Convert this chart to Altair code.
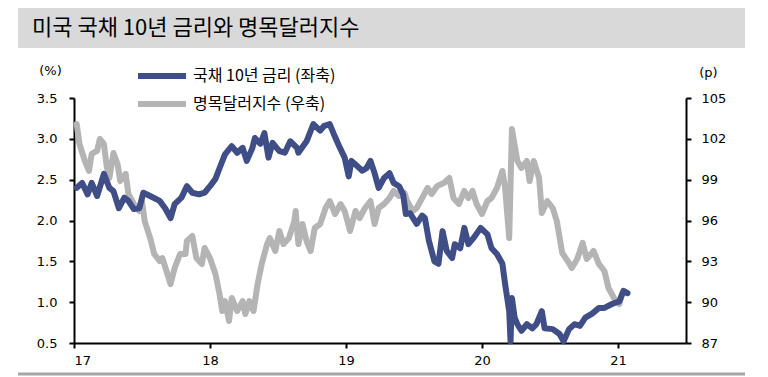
import altair as alt
import pandas as pd

title_text = ["미국 국채 10년 금리와 명목달러지수"]
series_names = ["국채 10년 금리 (좌축)", "명목달러지수 (우축)"]
series_colors = ["#3F4E86", "#B4B4B4"]

left_ticks = [0.5, 1.0, 1.5, 2.0, 2.5, 3.0, 3.5]
right_ticks = [87, 90, 93, 96, 99, 102, 105]
x_ticks = [17, 18, 19, 20, 21]

# US 10Y Treasury yield (%), time in fractional years (17 = 2017)
t_rate = [17.02, 17.06, 17.10, 17.13, 17.17, 17.22, 17.26, 17.29, 17.33, 17.37,
          17.40, 17.44, 17.48, 17.51, 17.56, 17.63, 17.67, 17.71, 17.74, 17.79,
          17.83, 17.87, 17.92, 17.96, 18.00, 18.04, 18.07, 18.11, 18.16, 18.20,
          18.24, 18.27, 18.31, 18.33, 18.37, 18.40, 18.43, 18.46, 18.51, 18.55,
          18.59, 18.64, 18.65, 18.71, 18.76, 18.81, 18.84, 18.88, 18.91, 18.95,
          18.99, 19.02, 19.04, 19.08, 19.12, 19.15, 19.18, 19.21, 19.24, 19.28,
          19.32, 19.35, 19.39, 19.42, 19.44, 19.47, 19.52, 19.56, 19.58, 19.61,
          19.65, 19.68, 19.71, 19.74, 19.78, 19.80, 19.84, 19.87, 19.90, 19.94,
          19.99, 20.04, 20.07, 20.11, 20.15, 20.17, 20.20, 20.21, 20.22, 20.24,
          20.26, 20.29, 20.33, 20.37, 20.40, 20.44, 20.46, 20.52, 20.57, 20.60,
          20.64, 20.68, 20.72, 20.76, 20.81, 20.86, 20.90, 20.96, 21.01, 21.04,
          21.07]
v_rate = [2.40, 2.46, 2.32, 2.46, 2.30, 2.57, 2.40, 2.36, 2.15, 2.28,
          2.24, 2.14, 2.15, 2.34, 2.30, 2.24, 2.15, 2.03, 2.20, 2.28,
          2.42, 2.34, 2.32, 2.34, 2.42, 2.51, 2.64, 2.81, 2.91, 2.83,
          2.89, 2.73, 2.88, 3.01, 2.94, 3.07, 2.77, 2.95, 2.85, 2.83,
          2.97, 2.89, 2.83, 2.97, 3.18, 3.10, 3.16, 3.18, 3.06, 2.91,
          2.77, 2.54, 2.73, 2.67, 2.61, 2.64, 2.73, 2.58, 2.40, 2.52,
          2.58, 2.46, 2.42, 2.32, 2.08, 2.09, 1.96, 2.06, 2.03, 1.75,
          1.50, 1.47, 1.87, 1.63, 1.54, 1.71, 1.66, 1.91, 1.71, 1.79,
          1.91, 1.83, 1.66, 1.59, 1.47, 1.22, 0.89, 0.52, 1.05, 0.81,
          0.73, 0.65, 0.73, 0.68, 0.73, 0.89, 0.68, 0.67, 0.61, 0.52,
          0.67, 0.73, 0.71, 0.81, 0.86, 0.93, 0.93, 0.98, 1.01, 1.14,
          1.11]

# Nominal dollar index (p)
t_dollar = [17.02, 17.04, 17.08, 17.11, 17.13, 17.17, 17.19, 17.22, 17.24, 17.26,
            17.29, 17.32, 17.34, 17.38, 17.40, 17.44, 17.48, 17.50, 17.52, 17.56,
            17.59, 17.63, 17.65, 17.68, 17.71, 17.74, 17.78, 17.82, 17.83, 17.87,
            17.90, 17.94, 17.96, 18.00, 18.04, 18.07, 18.09, 18.11, 18.14, 18.16,
            18.20, 18.24, 18.26, 18.29, 18.32, 18.35, 18.38, 18.42, 18.44, 18.48,
            18.51, 18.54, 18.58, 18.62, 18.63, 18.65, 18.68, 18.71, 18.74, 18.77,
            18.81, 18.85, 18.88, 18.92, 18.96, 18.99, 19.03, 19.07, 19.10, 19.14,
            19.18, 19.21, 19.24, 19.28, 19.32, 19.35, 19.39, 19.43, 19.45, 19.49,
            19.52, 19.56, 19.60, 19.63, 19.67, 19.72, 19.76, 19.79, 19.83, 19.87,
            19.90, 19.93, 19.96, 20.00, 20.04, 20.07, 20.11, 20.15, 20.17, 20.20,
            20.22, 20.26, 20.29, 20.33, 20.35, 20.38, 20.42, 20.44, 20.48, 20.52,
            20.55, 20.59, 20.63, 20.66, 20.70, 20.74, 20.77, 20.82, 20.86, 20.90,
            20.93, 20.97, 21.01, 21.03, 21.05]
v_dollar = [103.09, 101.62, 100.37, 99.64, 100.89, 101.11, 101.99, 101.62, 100.00, 99.12,
            100.96, 100.15, 98.90, 99.42, 97.95, 97.21, 96.70, 97.43, 95.96, 94.71,
            93.54, 93.02, 93.24, 92.29, 91.33, 92.51, 93.54, 93.54, 94.49, 94.86,
            93.24, 92.80, 93.98, 93.24, 92.07, 90.60, 89.35, 90.08, 88.62, 90.31,
            89.35, 90.08, 89.13, 90.08, 89.35, 91.33, 92.80, 94.27, 94.71, 93.76,
            95.23, 94.27, 94.71, 95.96, 96.70, 94.27, 95.74, 94.49, 93.76, 95.45,
            95.74, 96.92, 97.43, 96.48, 97.21, 96.70, 95.23, 96.70, 96.18, 96.92,
            97.43, 95.74, 96.92, 97.21, 97.65, 98.17, 97.80, 98.02, 97.43, 96.70,
            96.92, 97.65, 98.39, 97.95, 98.53, 98.75, 99.12, 97.65, 97.21, 98.17,
            97.65, 98.17, 97.21, 96.48, 97.43, 97.65, 98.39, 99.64, 98.39, 94.71,
            102.72, 100.37, 99.86, 100.37, 98.90, 100.37, 99.12, 96.55, 97.43, 96.92,
            95.96, 93.61, 93.02, 92.51, 93.17, 94.35, 93.17, 93.76, 92.80, 92.29,
            91.04, 90.31, 89.86, 90.60, 90.67]

df_rate = pd.DataFrame({"t": t_rate, "v": v_rate, "series": series_names[0]})
df_dollar = pd.DataFrame({"t": t_dollar, "v": v_dollar, "series": series_names[1]})
df_title = pd.DataFrame({"label": title_text})

LABEL_FONT = "DejaVu Sans"
KFONT = "Noto Sans CJK KR"

x_enc = alt.X(
    "t:Q",
    scale=alt.Scale(domain=[17, 21.5], nice=False, zero=False),
    axis=alt.Axis(values=x_ticks, format="d", title=None, labelPadding=6),
)
color_enc = alt.Color(
    "series:N",
    scale=alt.Scale(domain=series_names, range=series_colors),
    legend=alt.Legend(
        title=None, orient="none", legendX=61, legendY=-30, direction="vertical",
        symbolType="stroke", symbolSize=2304, symbolStrokeWidth=6,
        clipHeight=16, rowPadding=12, labelFont=KFONT, labelFontSize=16,
        labelColor="black", labelOffset=4, padding=0,
    ),
)

dollar_line = alt.Chart(df_dollar).mark_line(
    strokeWidth=6, strokeJoin="round", strokeCap="round"
).encode(
    x=x_enc,
    y=alt.Y(
        "v:Q",
        scale=alt.Scale(domain=[87, 105], nice=False, zero=False),
        axis=alt.Axis(
            orient="right", values=right_ticks, format="d", title="(p)",
            titleAngle=0, titleX=22, titleY=-26, titleAlign="center",
            titleBaseline="middle", titleFont=LABEL_FONT, titleFontSize=13,
            titleFontWeight="normal", labelPadding=10,
        ),
    ),
    color=color_enc,
)

rate_line = alt.Chart(df_rate).mark_line(
    strokeWidth=6, strokeJoin="round", strokeCap="round"
).encode(
    x=x_enc,
    y=alt.Y(
        "v:Q",
        scale=alt.Scale(domain=[0.5, 3.5], nice=False, zero=False),
        axis=alt.Axis(
            orient="left", values=left_ticks, format=".1f", title="(%)",
            titleAngle=0, titleX=-24, titleY=-28, titleAlign="center",
            titleBaseline="middle", titleFont=LABEL_FONT, titleFontSize=13,
            titleFontWeight="normal", labelPadding=12,
        ),
    ),
    color=color_enc,
)

title_box = alt.Chart(df_title).mark_rect(color="#D9D9D9").encode(
    x=alt.value(-56), x2=alt.value(671), y=alt.value(-90), y2=alt.value(-50)
)
title_label = alt.Chart(df_title).mark_text(
    align="left", baseline="middle", font=KFONT, fontSize=22, color="black"
).encode(x=alt.value(-42), y=alt.value(-70), text="label:N")
bottom_rule = alt.Chart(df_title).mark_rule(color="#A6A6A6", strokeWidth=3).encode(
    x=alt.value(-56), x2=alt.value(671), y=alt.value(276)
)

chart = alt.layer(
    title_box, title_label, bottom_rule, dollar_line, rate_line
).resolve_scale(
    y="independent"
).properties(
    width=612, height=245,
    autosize=alt.AutoSizeParams(type="none"),
    padding={"left": 74, "top": 98, "right": 82, "bottom": 34},
    background="white",
).configure_view(
    stroke=None
).configure_axis(
    grid=False, domainColor="black", domainWidth=2, tickColor="black",
    tickWidth=2, tickSize=5, labelFont=LABEL_FONT, labelFontSize=13,
    labelColor="black", titleColor="black",
)

chart.save("out.html", embed_options={"renderer": "svg", "actions": False})
